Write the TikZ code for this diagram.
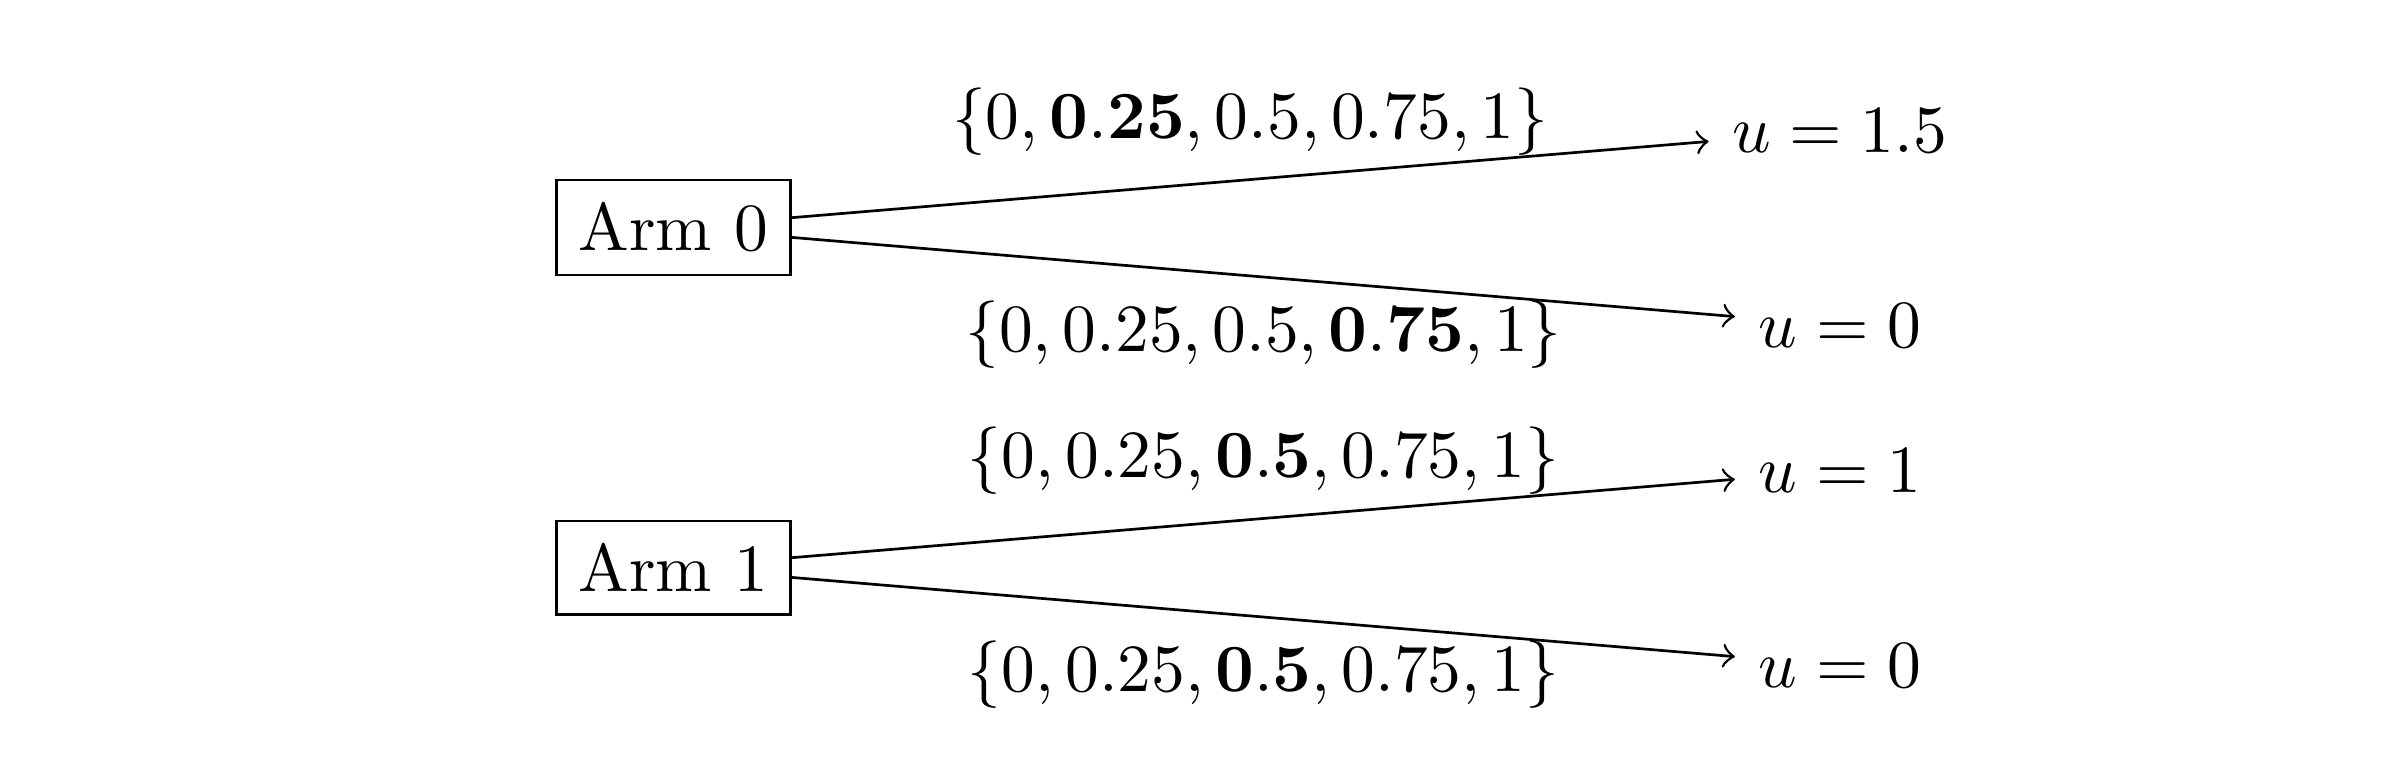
\documentclass[tikz,border=0pt]{standalone}
\begin{document}
\begin{tikzpicture}[
        arm/.style={draw, rectangle},
        outcome/.style={}
    ]
                \useasboundingbox (-3.508,1.185) rectangle (9.003,-2.878);
                % arms
                \node[arm] (arm0) at (0,0) {Arm 0};
                \node[arm] (arm1) at (0,-1.771) {Arm 1};
                % outcomes
                \node[outcome] (u00) at (6.075,0.505) {$u=1.5$};
                \node[outcome] (u01) at (6.075,-0.51) {$u=0$};
                \node[outcome] (u10) at (6.075,-1.266) {$u=1$};
                \node[outcome] (u11) at (6.075,-2.281) {$u=0$};
                \draw[->] (arm0) -- node[above] {$\{0,\mathbf{0.25},0.5,0.75,1\}$} (u00);
                \draw[->] (arm0) -- node[below] {$\{0,0.25,0.5,\mathbf{0.75},1\}$} (u01);
                \draw[->] (arm1) -- node[above] {$\{0,0.25,\mathbf{0.5},0.75,1\}$} (u10);
                \draw[->] (arm1) -- node[below] {$\{0,0.25,\mathbf{0.5},0.75,1\}$} (u11);
            \end{tikzpicture}
\end{document}
